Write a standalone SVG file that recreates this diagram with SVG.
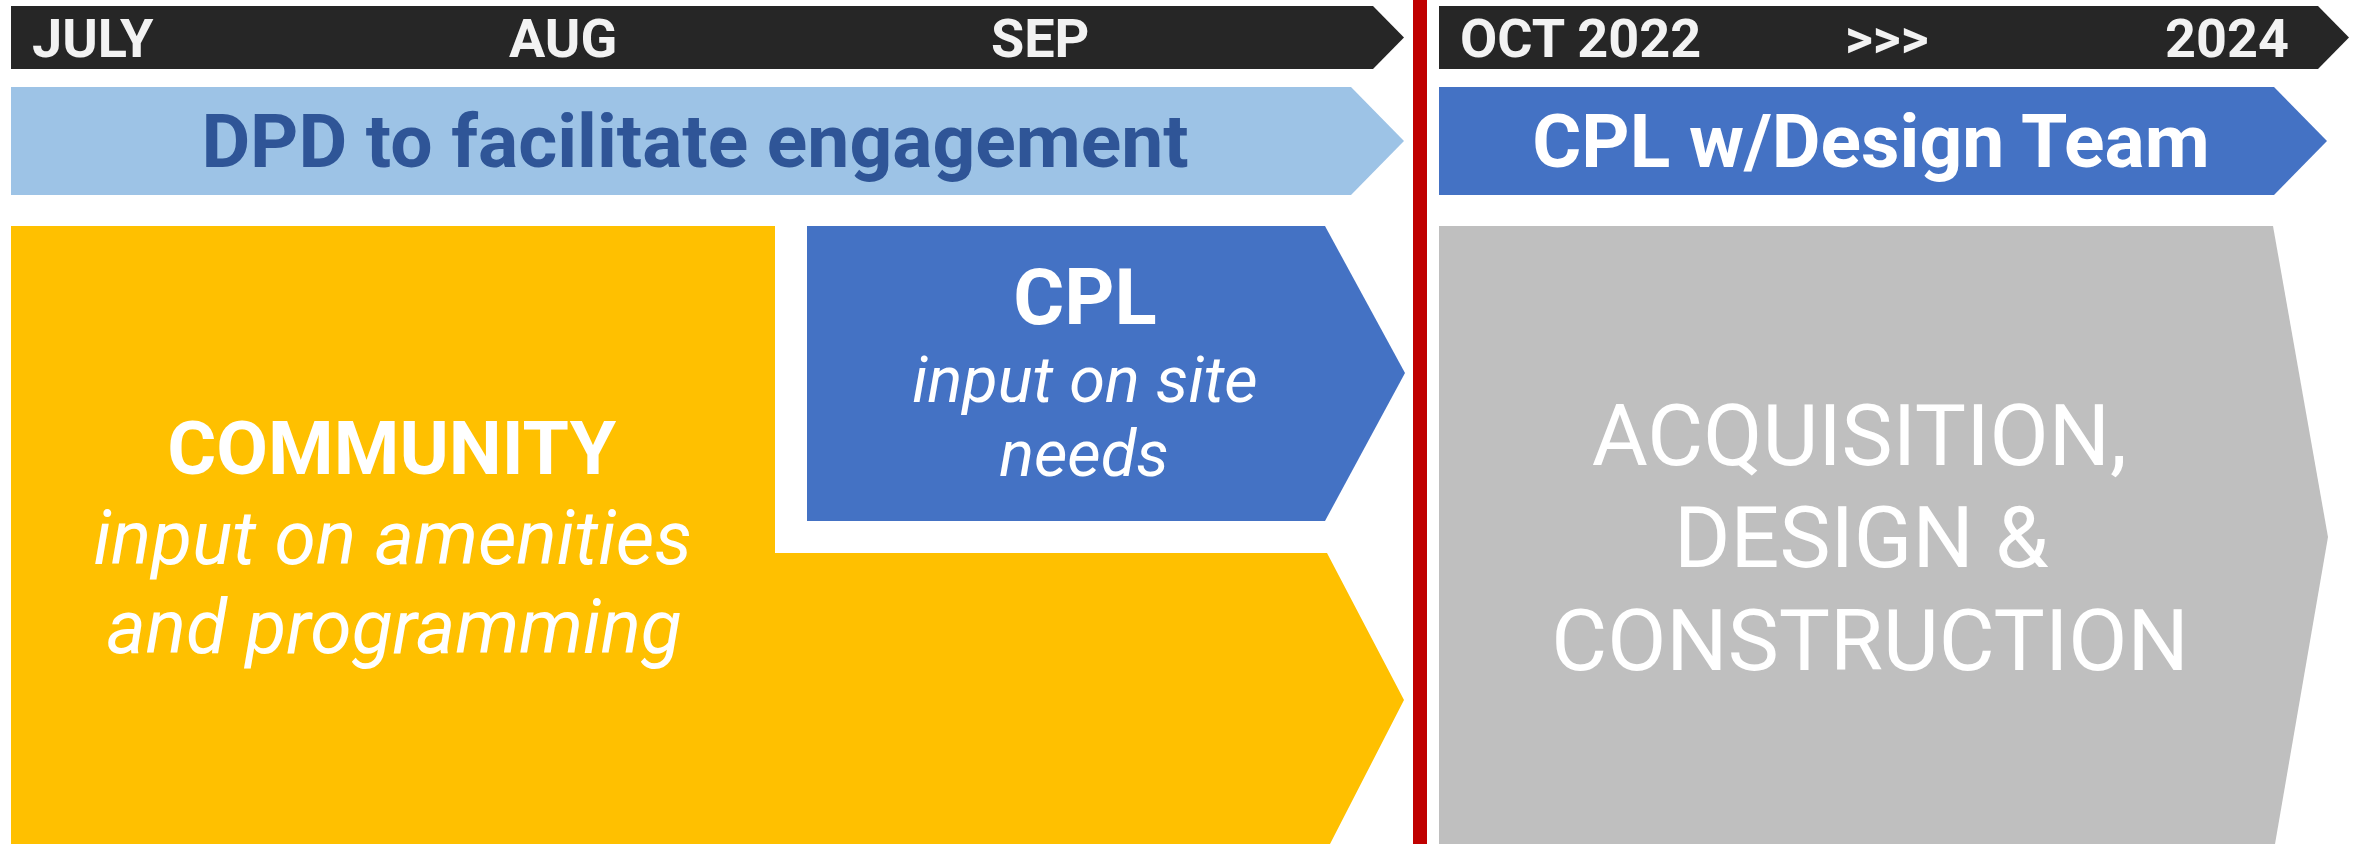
<svg xmlns="http://www.w3.org/2000/svg" width="2359" height="844" viewBox="0 0 2359 844">
<style>
.t{font-family:Roboto,"Liberation Sans",sans-serif}
.hdr{font-size:54px;font-weight:700;fill:#F2F2F2}
.big{font-size:75px;font-weight:700}
.b{font-weight:700}
.i{font-style:italic}
</style>
<rect width="2359" height="844" fill="#FFFFFF"/>
<g id="timeline-left">
<polygon points="11,6 1373,6 1404,37.5 1373,69 11,69" fill="#262626"/>
<text class="t hdr" x="32" y="57">JULY</text>
<text class="t hdr" x="509" y="57">AUG</text>
<text class="t hdr" x="991" y="57">SEP</text>
</g>
<g id="timeline-right">
<polygon points="1439,6 2318,6 2349,37.5 2318,69 1439,69" fill="#262626"/>
<text class="t hdr" x="1460" y="57">OCT 2022</text>
<text class="t hdr" x="1845" y="57">&gt;&gt;&gt;</text>
<text class="t hdr" x="2289" y="57" text-anchor="end">2024</text>
</g>
<g id="dpd">
<polygon points="11,87 1351,87 1404,141 1351,195 11,195" fill="#9DC3E6"/>
<text class="t big" x="695" y="167" text-anchor="middle" fill="#2F5597">DPD to facilitate engagement</text>
</g>
<g id="cpl-design">
<polygon points="1439,87 2274,87 2327,141 2274,195 1439,195" fill="#4472C4"/>
<text class="t big" x="1871" y="167" text-anchor="middle" fill="#FFFFFF">CPL w/Design Team</text>
</g>
<g id="community">
<polygon points="11,226 775,226 775,553 1327,553 1404,700 1330,844 11,844" fill="#FFC000"/>
<text class="t" font-size="75" fill="#FFFFFF" text-anchor="middle">
<tspan class="b" x="401" y="474">COMMUNITY</tspan>
<tspan class="i" x="402" y="564">input on amenities</tspan>
<tspan class="i" x="394" y="653">and programming</tspan>
</text>
</g>
<g id="cpl">
<polygon points="807,226 1325,226 1405,373 1325,521 807,521" fill="#4472C4"/>
<text class="t" fill="#FFFFFF" text-anchor="middle">
<tspan class="b" font-size="78" x="1087" y="324">CPL</tspan>
<tspan class="i" font-size="65" x="1087" y="402">input on site</tspan>
<tspan class="i" font-size="65" x="1084" y="476">needs</tspan>
</text>
</g>
<g id="divider">
<rect x="1413" y="0" width="14" height="844" fill="#C00000"/>
</g>
<g id="acquisition">
<polygon points="1439,226 2273,226 2328,537 2275,844 1439,844" fill="#BFBFBF"/>
<text class="t" font-size="86" fill="#FFFFFF" text-anchor="middle">
<tspan x="1870" y="465">ACQUISITION,</tspan>
<tspan x="1872" y="567">DESIGN &amp;</tspan>
<tspan x="1870" y="670">CONSTRUCTION</tspan>
</text>
</g>
<g id="connectors"></g>
</svg>
